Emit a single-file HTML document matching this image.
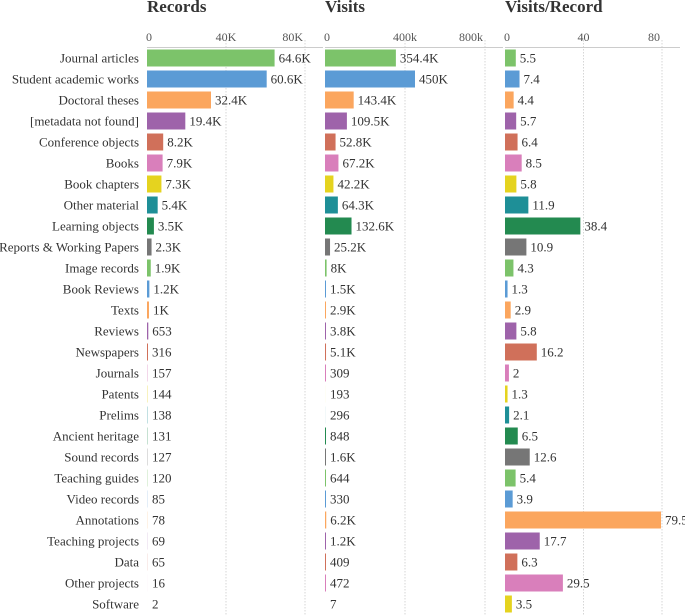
<!DOCTYPE html>
<html><head><meta charset="utf-8"><style>
body{margin:0;background:#fff;}
svg{display:block;font-family:"Liberation Serif",serif;}
</style></head><body>
<svg id="c" width="685" height="615"></svg>
<script>
const categories=["Journal articles","Student academic works","Doctoral theses","[metadata not found]","Conference objects","Books","Book chapters","Other material","Learning objects","Reports & Working Papers","Image records","Book Reviews","Texts","Reviews","Newspapers","Journals","Patents","Prelims","Ancient heritage","Sound records","Teaching guides","Video records","Annotations","Teaching projects","Data","Other projects","Software"];
const records=[64600,60600,32400,19400,8200,7900,7300,5400,3500,2300,1900,1200,1000,653,316,157,144,138,131,127,120,85,78,69,65,16,2];
const recordLabels=["64.6K","60.6K","32.4K","19.4K","8.2K","7.9K","7.3K","5.4K","3.5K","2.3K","1.9K","1.2K","1K","653","316","157","144","138","131","127","120","85","78","69","65","16","2"];
const visits=[354400,450000,143400,109500,52800,67200,42200,64300,132600,25200,8000,1500,2900,3800,5100,309,193,296,848,1600,644,330,6200,1200,409,472,7];
const visitLabels=["354.4K","450K","143.4K","109.5K","52.8K","67.2K","42.2K","64.3K","132.6K","25.2K","8K","1.5K","2.9K","3.8K","5.1K","309","193","296","848","1.6K","644","330","6.2K","1.2K","409","472","7"];
const ratio=[5.5,7.4,4.4,5.7,6.4,8.5,5.8,11.9,38.4,10.9,4.3,1.3,2.9,5.8,16.2,2,1.3,2.1,6.5,12.6,5.4,3.9,79.5,17.7,6.3,29.5,3.5];
const ratioLabels=ratio.map(String);
const recTicks=[0,40000,80000],recTickLabels=["0","40K","80K"];
const visTicks=[0,400000,800000],visTickLabels=["0","400k","800k"];
const ratTicks=[0,40,80],ratTickLabels=["0","40","80"];
const colors=["#7cc36a","#5b9bd5","#fba65e","#9e63aa","#d0705a","#d97fbb","#e5d31f","#1e8f97","#238a50","#767676"];
const svg=document.getElementById('c');
const NS="http://www.w3.org/2000/svg";
function el(t,a,p){const e=document.createElementNS(NS,t);for(const k in a)e.setAttribute(k,a[k]);(p||svg).appendChild(e);return e;}
const y0=58,step=21,bh=17;
const yOf=i=>y0+i*step;
categories.forEach((c,i)=>{const t=el('text',{x:139,y:yOf(i)+4.5,'text-anchor':'end','font-size':13,fill:'#333'});t.textContent=c;

});
function panel(name,title,x0,x1,max,ticks,tickLabels,vals,labels){
  const g=el('g',{});
  
  
  const sx=v=>x0+(v/max)*(x1-x0);
  const tt=el('text',{x:x0,y:12,'font-size':17,'font-weight':'bold',fill:'#333'},g);tt.textContent=title;
  
  
  ticks.forEach((t,k)=>{const x=sx(t);
    if(k>0){const l=el('line',{x1:x,x2:x,y1:40,y2:615,stroke:'#d6d6d6','stroke-dasharray':'1.5,1.5'},g);
      
      }
    const tl=el('text',{x:k==ticks.length-1?x-2:x,y:41,'text-anchor':k==0?'start':(k==ticks.length-1?'end':'middle'),'font-size':12,fill:'#555'},g);
    if(k==0)tl.setAttribute('x',x-1);
    tl.textContent=tickLabels[k];
    
    });
  const ax=el('line',{x1:x0,x2:x1+18,y1:47.5,y2:47.5,stroke:'#ccc'},g);
  
  
  vals.forEach((v,i)=>{let w=sx(v)-x0;if(v>=300&&w<1)w=1;
    const r=el('rect',{x:x0,y:yOf(i)-bh/2,width:w,height:bh,fill:colors[i%10]},g);
    
    
    const t=el('text',{x:x0+Math.max(w,1)+4,y:yOf(i)+4.5,'font-size':13,fill:'#333'},g);t.textContent=labels[i];
    
    });
}
panel('records','Records',147,305,80000,recTicks,recTickLabels,records,recordLabels);
panel('visits','Visits',325,485,800000,visTicks,visTickLabels,visits,visitLabels);
panel('visits-per-record','Visits/Record',505,662,80,ratTicks,ratTickLabels,ratio,ratioLabels);
</script>
</body></html>
